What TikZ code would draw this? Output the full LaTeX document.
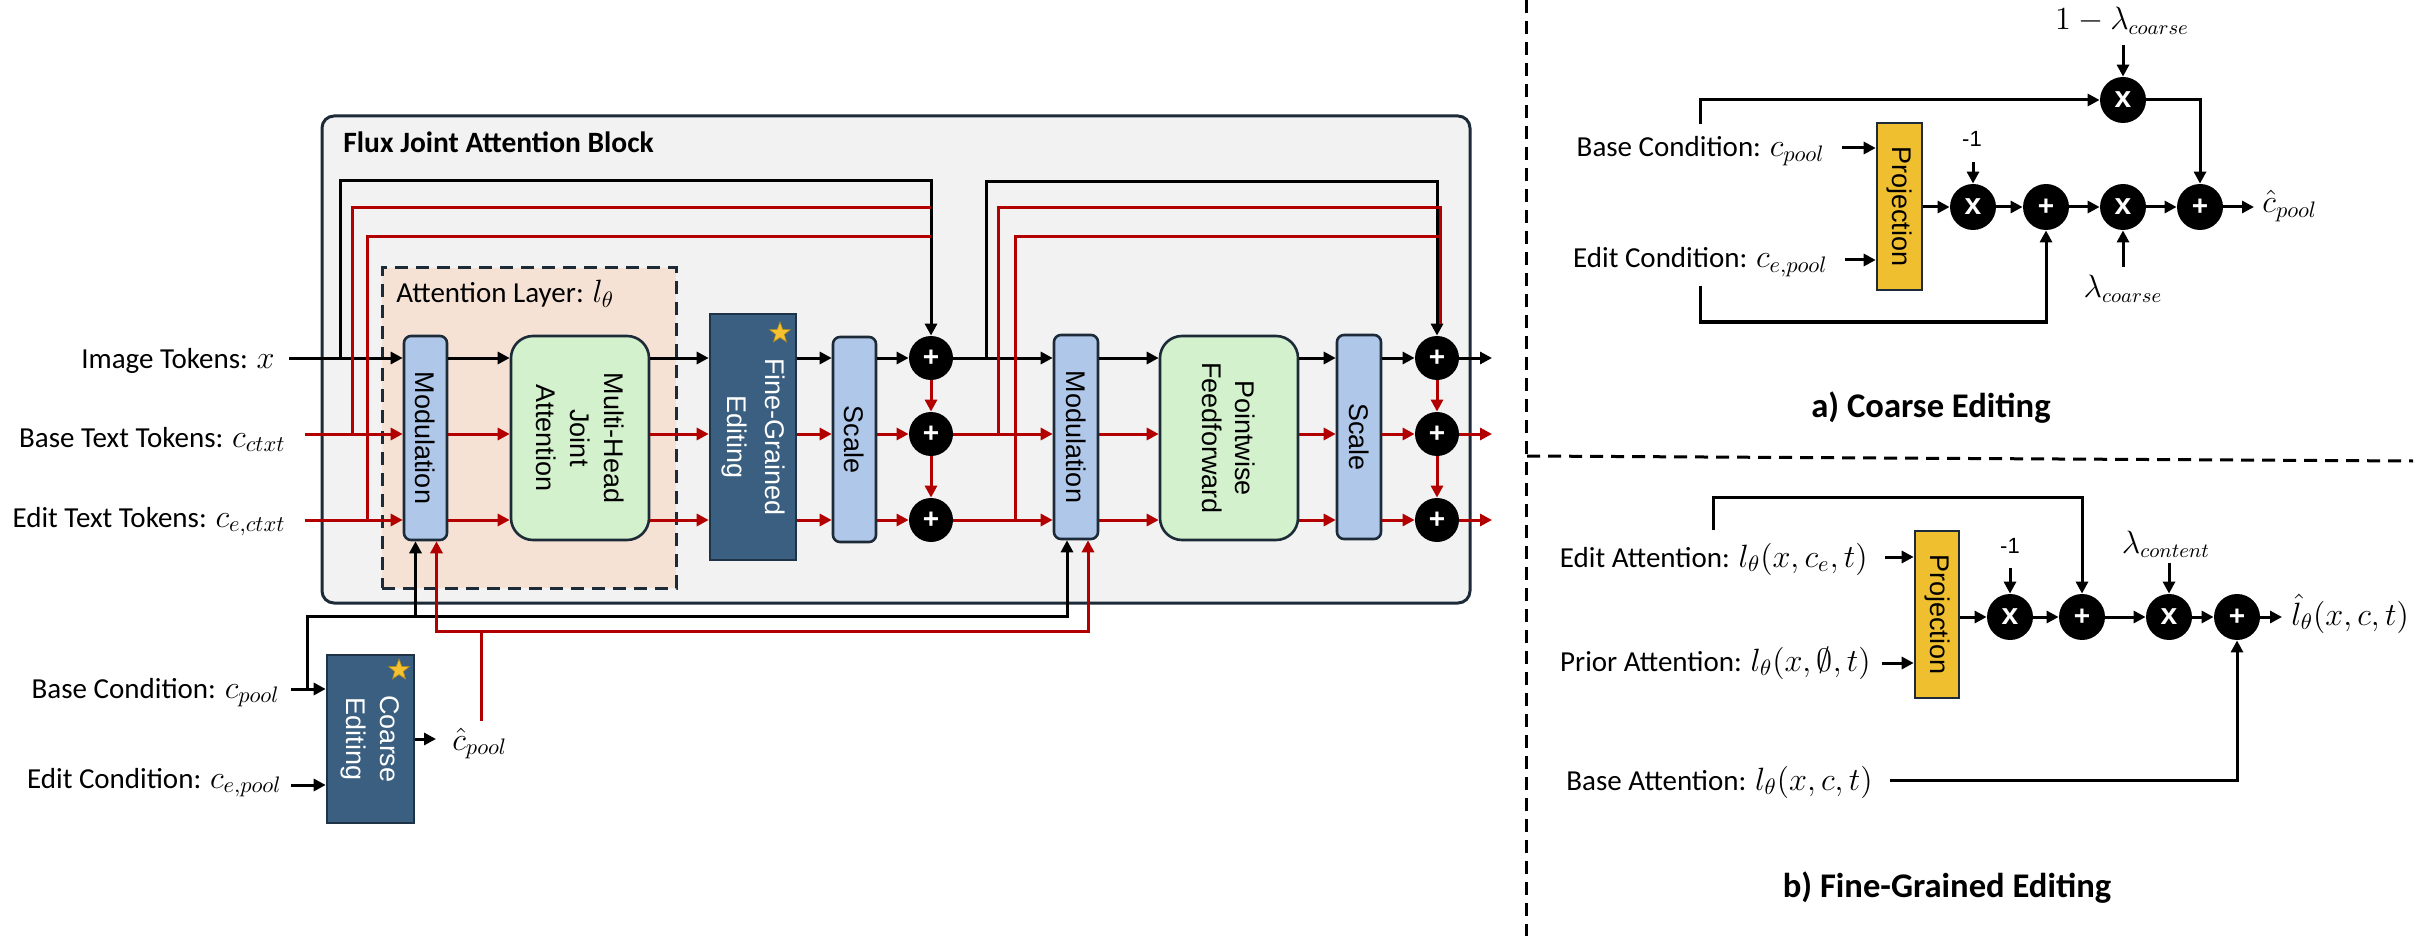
\documentclass[tikz,border=0pt]{standalone}
\usepackage{fontspec}
\usepackage{graphicx}
\setmainfont{Carlito}
\newfontfamily\boxfont{Liberation Sans}
\newcommand{\mth}[1]{\scalebox{1.12}{$#1$}}
\usetikzlibrary{arrows.meta,shapes.geometric,calc}
\definecolor{blockfill}{HTML}{F2F2F2}
\definecolor{blockline}{HTML}{1D2B38}
\definecolor{attfill}{HTML}{F5E2D5}
\definecolor{modfill}{HTML}{AFC7E9}
\definecolor{mhfill}{HTML}{D3F1CC}
\definecolor{editfill}{HTML}{3A5F80}
\definecolor{editline}{HTML}{1E3346}
\definecolor{projfill}{HTML}{F0BF2F}
\definecolor{redline}{HTML}{B20000}
\definecolor{stargold}{HTML}{F5C12E}
\begin{document}
\begin{tikzpicture}[x=0.5pt,y=-0.5pt,
  >={Triangle[length=6pt,width=6pt]},
  lab/.style={font=\fontsize{14.5}{17}\selectfont, inner sep=0pt},
  mlab/.style={font=\fontsize{13.5}{16}\selectfont, inner sep=0pt},
  numlab/.style={font=\boxfont\fontsize{11}{13}\selectfont, inner sep=0pt},
  ttl/.style={font=\fontsize{17.3}{20}\selectfont\bfseries, inner sep=0pt},
  blkln/.style={line width=1.5pt, draw=black},
  redln/.style={line width=1.5pt, draw=redline},
  boxbase/.style={line width=1.3pt, inner sep=0pt},
  modbox/.style={boxbase, draw=blockline, fill=modfill, rounded corners=3.5pt},
  grbox/.style={boxbase, draw=blockline, fill=mhfill, rounded corners=11pt},
  edbox/.style={boxbase, draw=editline, fill=editfill},
  prbox/.style={boxbase, draw=blockline, fill=projfill},
  rtxt/.style={rotate=-90, align=center, inner sep=0pt, font=\boxfont\fontsize{13.5}{17}\selectfont},
  opc/.style={circle, fill=black, minimum size=22pt, inner sep=0pt, text=white, font=\boxfont\bfseries\fontsize{14}{14}\selectfont},
  opx/.style={opc, minimum size=23pt, font=\boxfont\bfseries\fontsize{15}{15}\selectfont},
  starn/.style={star, star points=5, star point ratio=2.4, fill=stargold, draw=stargold!70!black, line width=0.3pt, minimum size=11pt, inner sep=0pt},
  divl/.style={line width=1.5pt, dash pattern=on 6.5pt off 4pt}
]
\useasboundingbox (0,0) rectangle (2420,936);
\fill[white] (0,0) rectangle (2420,936);

% ---------- main block ----------
\node[draw=blockline, line width=1.5pt, fill=blockfill, rounded corners=6pt, minimum width=574pt, minimum height=243.5pt, inner sep=0pt] (block) at (896,359.5) {};
\node[font=\fontsize{14.75}{17}\selectfont\bfseries, inner sep=0pt, anchor=base west] (title) at (343,153) {Flux Joint Attention Block};
\node[draw=blockline, line width=1.5pt, dash pattern=on 6.5pt off 4pt, fill=attfill, minimum width=147pt, minimum height=160pt, inner sep=0pt] (att) at (529,428) {};
\node[lab, anchor=base west] (attlab) at (396,303) {Attention Layer: \mth{l_\theta}};

\node[modbox, minimum width=21.5pt, minimum height=102pt] (mod1) at (425.5,438) {};
\node[rtxt] (mod1t) at (mod1) {Modulation};
\node[grbox, minimum width=69pt, minimum height=102pt] (mhja) at (580,438) {};
\node[rtxt] (mhjat) at (mhja) {Multi-Head\\Joint\\Attention};
\node[edbox, minimum width=43pt, minimum height=123pt] (fge) at (753,437) {};
\node[rtxt, text=white, font=\boxfont\fontsize{13.5}{19}\selectfont] (fget) at (fge) {Fine-Grained\\Editing};
\node[starn] (star1) at (780,333) {};
\node[modbox, minimum width=21.5pt, minimum height=102.5pt] (sc1) at (854.5,439.5) {};
\node[rtxt] (sc1t) at (sc1) {Scale};
\node[opc] (p1a) at (931,358) {+};
\node[opc] (p1b) at (931,434) {+};
\node[opc] (p1c) at (931,520) {+};
\node[modbox, minimum width=22pt, minimum height=102pt] (mod2) at (1076,437) {};
\node[rtxt] (mod2t) at (mod2) {Modulation};
\node[grbox, minimum width=69pt, minimum height=102pt] (pw) at (1229,438) {};
\node[rtxt, font=\boxfont\fontsize{13.5}{16.5}\selectfont] (pwt) at (pw) {Pointwise\\Feedforward};
\node[modbox, minimum width=22pt, minimum height=102pt] (sc2) at (1359,437) {};
\node[rtxt] (sc2t) at (sc2) {Scale};
\node[opc] (p2a) at (1437,358) {+};
\node[opc] (p2b) at (1437,434) {+};
\node[opc] (p2c) at (1437,520) {+};

% left labels
\node[lab, anchor=base east] (imgtok) at (275,368) {Image Tokens: \mth{x}};
\node[lab, anchor=base east] (basetok) at (286,447) {Base Text Tokens: \mth{c_{ctxt}}};
\node[lab, anchor=base east] (edittok) at (286,527) {Edit Text Tokens: \mth{c_{e,ctxt}}};
\node[lab, anchor=base east] (basecond) at (280,698) {Base Condition: \mth{c_{pool}}};
\node[lab, anchor=base east] (editcond) at (282,788) {Edit Condition: \mth{c_{e,pool}}};

\node[edbox, minimum width=43.5pt, minimum height=84pt] (coarse) at (370.5,739) {};
\node[rtxt, text=white] (coarset) at (coarse) {Coarse\\Editing};
\node[starn] (star2) at (399,670) {};
\node[lab, anchor=base west] (chat) at (452,750) {\mth{\hat{c}_{pool}}};

% row coordinates
\coordinate (rI) at (0,358);
\coordinate (rB) at (0,434);
\coordinate (rE) at (0,520);
\coordinate (tk) at (0,181);
\coordinate (tk2) at (0,182);
\coordinate (t1) at (0,208);
\coordinate (t2) at (0,237);
\coordinate (bl) at (0,616);
\coordinate (rl) at (0,631);
\coordinate (rBC) at (0,689);
\coordinate (rEC) at (0,785);
\coordinate (rCO) at (0,739);
\coordinate (sI) at ($(imgtok.east)+(14,0)$);
\coordinate (sB) at ($(basetok.east)+(19,0)$);
\coordinate (sE) at ($(edittok.east)+(19,0)$);
\coordinate (sBC) at ($(basecond.east)+(11,0)$);
\coordinate (sEC) at ($(editcond.east)+(9,0)$);
\coordinate (jI1) at (340,358);
\coordinate (jB1) at (352,434);
\coordinate (jE1) at (367,520);
\coordinate (jI2) at (986,358);
\coordinate (jB2) at (998,434);
\coordinate (jE2) at (1015,520);
\coordinate (kB) at (307,689);
\coordinate (chtop) at (481,721);
\coordinate (oI) at (1492,358);
\coordinate (oB) at (1492,434);
\coordinate (oE) at (1492,520);
\coordinate (coout) at (436,739);
\path ([xshift=-5pt]mod1.south) coordinate (m1bk);
\path ([xshift=5.5pt]mod1.south) coordinate (m1rd);
\path ([xshift=-4.5pt]mod2.south) coordinate (m2bk);
\path ([xshift=6pt]mod2.south) coordinate (m2rd);
\path ([xshift=1.5pt,yshift=6pt]p2a.north) coordinate (p2r);

% inputs
\draw[blkln,->] (sI |- rI) -- (mod1.west |- rI);
\draw[blkln,->] (jI1) |- (p1a.north |- tk) -- (p1a.north);
\draw[redln,->] (sB |- rB) -- (mod1.west |- rB);
\draw[redln] (jB1) |- (p1a.north |- t1);
\draw[redln,->] (sE |- rE) -- (mod1.west |- rE);
\draw[redln] (jE1) |- (p1a.north |- t2);

% row connectors
\foreach \a/\b in {mod1/mhja, mhja/fge, fge/sc1, mod2/pw, pw/sc2}{
  \draw[blkln,->] (\a.east |- rI) -- (\b.west |- rI);
  \draw[redln,->] (\a.east |- rB) -- (\b.west |- rB);
  \draw[redln,->] (\a.east |- rE) -- (\b.west |- rE);
}
\draw[blkln,->] (sc1.east |- rI) -- (p1a.west);
\draw[redln,->] (sc1.east |- rB) -- (p1b.west);
\draw[redln,->] (sc1.east |- rE) -- (p1c.west);
\draw[redln,->] (p1a) -- (p1b);
\draw[redln,->] (p1b) -- (p1c);

\draw[blkln,->] (p1a.east) -- (mod2.west |- rI);
\draw[redln,->] (p1b.east) -- (mod2.west |- rB);
\draw[redln,->] (p1c.east) -- (mod2.west |- rE);
\draw[blkln,->] (jI2) |- (p2a.north |- tk2) -- (p2a.north);
\draw[redln] (jB2) |- (p2r |- t1) -- (p2r);
\draw[redln] (jE2) |- (p2r |- t2);

\draw[blkln,->] (sc2.east |- rI) -- (p2a.west);
\draw[redln,->] (sc2.east |- rB) -- (p2b.west);
\draw[redln,->] (sc2.east |- rE) -- (p2c.west);
\draw[redln,->] (p2a) -- (p2b);
\draw[redln,->] (p2b) -- (p2c);
\draw[blkln,->] (p2a.east) -- (oI);
\draw[redln,->] (p2b.east) -- (oB);
\draw[redln,->] (p2c.east) -- (oE);

% conditions
\draw[blkln,->] (sBC |- rBC) -- (coarse.west |- rBC);
\draw[blkln,->] (sEC |- rEC) -- (coarse.west |- rEC);
\draw[blkln,->] (coarse.east |- rCO) -- (coout);
\draw[blkln,->] (kB) |- (m2bk |- bl) -- (m2bk);
\draw[blkln,->] (m1bk |- bl) -- (m1bk);
\draw[redln,->] (chtop) |- (m1rd |- rl) -- (m1rd);
\draw[redln,->] (chtop |- rl) -| (m2rd);

% ---------- dividers ----------
\draw[divl] (1526,0) -- (1526,936);
\draw[divl] (1527,456) -- (2413,461);

% ---------- a) coarse editing ----------
\node[lab, anchor=base east] (bca) at (1825,157) {Base Condition: \mth{c_{pool}}};
\node[lab, anchor=base east] (eca) at (1828,268) {Edit Condition: \mth{c_{e,pool}}};
\node[prbox, minimum width=22.5pt, minimum height=83.5pt] (pra) at (1899.5,206.5) {};
\node[rtxt] (prat) at (pra) {Projection};
\node[opx] (ta) at (2123,100) {x};
\node[opx] (a1) at (1973,207) {x};
\node[opc, minimum size=23pt] (a2) at (2046,207) {+};
\node[opx] (a3) at (2123,207) {x};
\node[opc, minimum size=23pt] (a4) at (2200,207) {+};
\node[mlab, anchor=base] (lam1) at (2122,30) {\mth{1-\lambda_{coarse}}};
\node[numlab, anchor=base] (neg1a) at (1972,147) {-1};
\node[mlab, anchor=base] (lam2) at (2123,298) {\mth{\lambda_{coarse}}};
\node[lab, anchor=base west] (chata) at (2262,213) {\mth{\hat{c}_{pool}}};
\node[ttl, anchor=base] (ttla) at (1931,417) {a) Coarse Editing};

\coordinate (sbca) at ($(bca.base east)+(17,-9)$);
\coordinate (seca) at ($(eca.base east)+(17,-8)$);
\coordinate (ta0) at ($(bca.north)+(0,-12)$);
\coordinate (eb0) at ($(eca.south)+(0,8)$);
\coordinate (ab) at (0,322);
\coordinate (la1) at (2123,45);
\coordinate (n1s) at (1973,162);
\coordinate (l2s) at (2123,267);
\coordinate (oa) at (2254,207);
\draw[blkln,->] (sbca) -- (pra.west |- sbca);
\draw[blkln,->] (seca) -- (pra.west |- seca);
\draw[blkln,->] (ta0) |- (ta.west);
\draw[blkln,->] (ta.east) -| (a4.north);
\draw[blkln,->] (la1) -- (ta.north);
\draw[blkln,->] (n1s) -- (a1.north);
\draw[blkln,->] (l2s) -- (a3.south);
\draw[blkln,->] (eb0) |- (a2.south |- ab) -- (a2.south);
\draw[blkln,->] (pra.east |- a1) -- (a1);
\draw[blkln,->] (a1) -- (a2);
\draw[blkln,->] (a2) -- (a3);
\draw[blkln,->] (a3) -- (a4);
\draw[blkln,->] (a4) -- (oa);

% ---------- b) fine-grained editing ----------
\node[lab, anchor=base east] (eab) at (1868,567) {Edit Attention: \mth{l_\theta(x,c_e,t)}};
\node[lab, anchor=base east] (pab) at (1871,671) {Prior Attention: \mth{l_\theta(x,\emptyset,t)}};
\node[lab, anchor=base east] (bab) at (1873,790) {Base Attention: \mth{l_\theta(x,c,t)}};
\node[prbox, minimum width=22pt, minimum height=83.5pt] (prb) at (1937,614.5) {};
\node[rtxt] (prbt) at (prb) {Projection};
\node[opx] (b1) at (2010,617) {x};
\node[opc, minimum size=23pt] (b2) at (2082,617) {+};
\node[opx] (b3) at (2169,617) {x};
\node[opc, minimum size=23pt] (b4) at (2237,617) {+};
\node[numlab, anchor=base] (neg1b) at (2010,553) {-1};
\node[mlab, anchor=base] (lamc) at (2166,553) {\mth{\lambda_{content}}};
\node[lab, anchor=base west] (lhat) at (2291,625) {\mth{\hat{l}_\theta(x,c,t)}};
\node[ttl, anchor=base] (ttlb) at (1947,897) {b) Fine-Grained Editing};

\coordinate (seab) at ($(eab.base east)+(17,-10)$);
\coordinate (spab) at ($(pab.base east)+(11,-8)$);
\coordinate (sbab) at ($(bab.base east)+(17,-10)$);
\coordinate (tb0) at ($(eab.north)+(0,-12)$);
\coordinate (tbl) at (0,497);
\coordinate (n2s) at (2010,568);
\coordinate (lcs) at (2169,563);
\coordinate (ob) at (2282,617);
\draw[blkln,->] (seab) -- (prb.west |- seab);
\draw[blkln,->] (spab) -- (prb.west |- spab);
\draw[blkln,->] (tb0) |- (b2.north |- tbl) -- (b2.north);
\draw[blkln,->] (n2s) -- (b1.north);
\draw[blkln,->] (lcs) -- (b3.north);
\draw[blkln,->] (sbab) -| (b4.south);
\draw[blkln,->] (prb.east |- b1) -- (b1);
\draw[blkln,->] (b1) -- (b2);
\draw[blkln,->] (b2) -- (b3);
\draw[blkln,->] (b3) -- (b4);
\draw[blkln,->] (b4) -- (ob);
\end{tikzpicture}
\end{document}
